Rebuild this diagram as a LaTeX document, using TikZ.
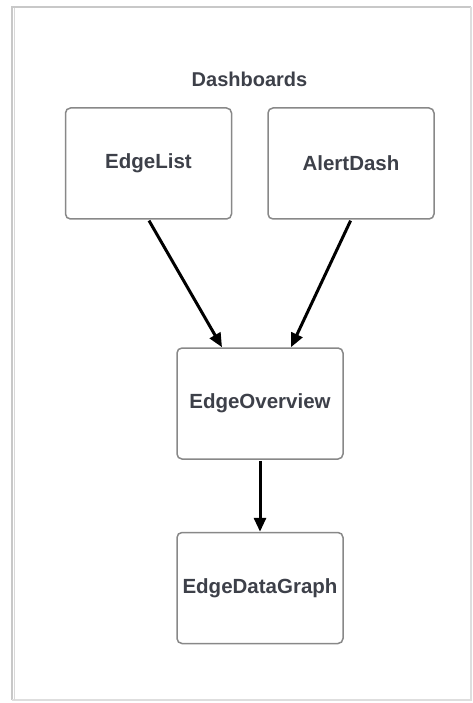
\documentclass[tikz,border=0pt]{standalone}
\usepackage{fontspec}
\setmainfont{Liberation Sans}
\usetikzlibrary{arrows.meta,calc}
\definecolor{boxline}{HTML}{888888}
\definecolor{txt}{HTML}{3D4049}
\definecolor{frameline}{HTML}{C8C8C8}
\tikzset{
  view/.style={draw=boxline, line width=1.5pt, rounded corners=5pt, fill=white,
    minimum width=166pt, minimum height=111pt, inner sep=0pt,
    font=\fontsize{20.5}{24}\selectfont\bfseries, text=txt},
  link/.style={line width=3pt, draw=black,
    -{Triangle[length=14pt,width=12pt]}, shorten <=1pt},
}
\begin{document}
\begin{tikzpicture}[x=1pt,y=-1pt]
  \useasboundingbox (0,0) rectangle (473,703);
  % page frame with a soft drop edge
  \draw[frameline, line width=2pt] (12,700) -- (12,7) -- (471,7);
  \draw[frameline!60, line width=1.2pt] (471,7) -- (471,700) -- (12,700);
  \draw[frameline!70, line width=1pt] (14.5,700) -- (14.5,8);

  \node[font=\fontsize{20}{24}\selectfont\bfseries, text=txt] (title) at (249.5,79) {Dashboards};

  \node[view] (list)  at (148.5,163.5) {EdgeList};
  \node[view] (alert) at (351,163.5)   {AlertDash};
  \node[view] (over)  at (260,403.5)   {EdgeOverview};
  \node[view] (graph) at (260,588)     {EdgeDataGraph};

  \draw[link] (list.south)  -- ($(over.north)+(-38,0)$);
  \draw[link] (alert.south) -- ($(over.north)+(31,0)$);
  \draw[link] (over.south)  -- (graph.north);
\end{tikzpicture}
\end{document}
